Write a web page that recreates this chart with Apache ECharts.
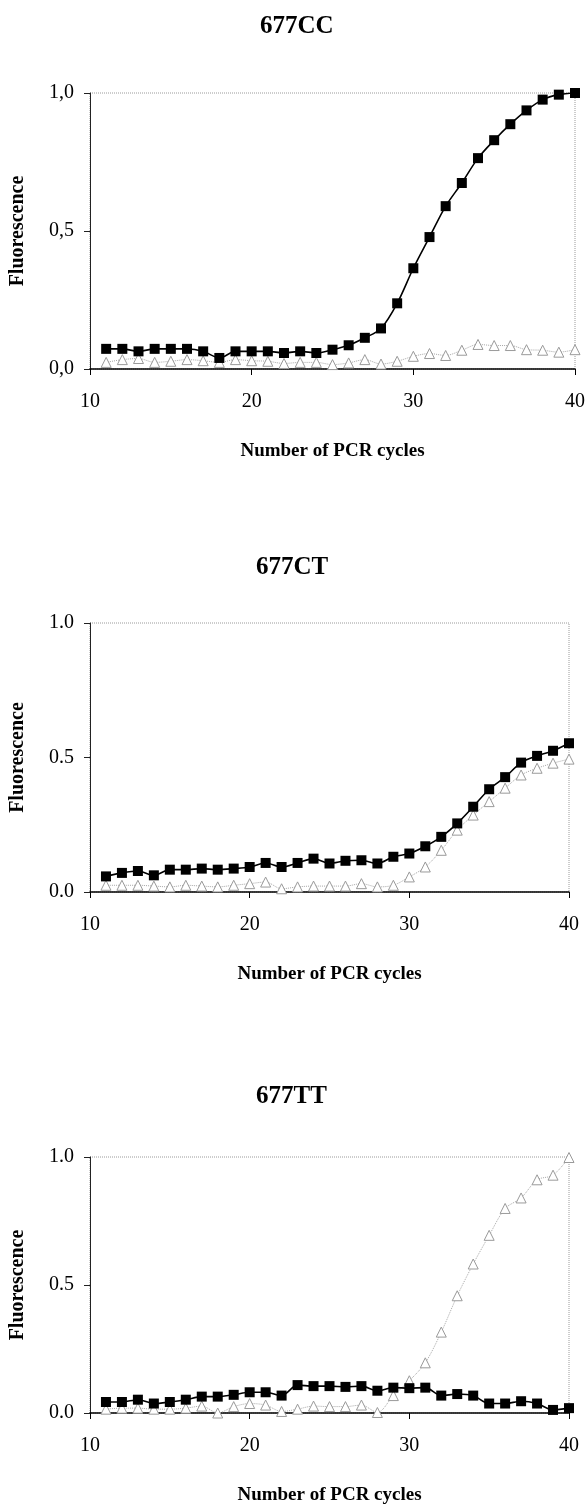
<!DOCTYPE html>
<html>
<head>
<meta charset="utf-8">
<script src="https://cdn.jsdelivr.net/npm/echarts@6/dist/echarts.min.js"></script>
<style>
  html, body { margin: 0; padding: 0; background: #fff; }
  #main { width: 588px; height: 1506px; }
</style>
</head>
<body>
<div id="main"></div>
<script>
  // PCR cycles (x)
  var cycles = [11, 12, 13, 14, 15, 16, 17, 18, 19, 20, 21, 22, 23, 24, 25, 26, 27, 28, 29, 30, 31, 32, 33, 34, 35, 36, 37, 38, 39, 40];

  var chartTitles = ['677CC', '677CT', '677TT'];
  var xTicks = [10, 20, 30, 40];
  var yTicks = [0, 0.5, 1];
  var yLabelsCC = ['0,0', '0,5', '1,0'];
  var yLabelsOther = ['0.0', '0.5', '1.0'];

  // 677CC
  var ccSquare = [0.073, 0.073, 0.064, 0.073, 0.073, 0.073, 0.064, 0.040, 0.064, 0.064, 0.064, 0.058, 0.064, 0.058, 0.070, 0.086, 0.113, 0.147, 0.238, 0.365, 0.478, 0.590, 0.674, 0.764, 0.829, 0.887, 0.937, 0.976, 0.994, 1.0];
  var ccTriangle = [0.024, 0.034, 0.038, 0.024, 0.028, 0.034, 0.030, 0.024, 0.034, 0.030, 0.028, 0.020, 0.024, 0.024, 0.016, 0.022, 0.034, 0.018, 0.028, 0.046, 0.056, 0.049, 0.068, 0.089, 0.085, 0.085, 0.070, 0.068, 0.061, 0.070];

  // 677CT
  var ctSquare = [0.058, 0.071, 0.078, 0.062, 0.083, 0.083, 0.087, 0.083, 0.087, 0.093, 0.108, 0.093, 0.108, 0.124, 0.106, 0.116, 0.118, 0.106, 0.131, 0.143, 0.170, 0.205, 0.255, 0.317, 0.382, 0.427, 0.481, 0.506, 0.525, 0.553];
  var ctTriangle = [0.025, 0.025, 0.025, 0.022, 0.019, 0.025, 0.022, 0.019, 0.025, 0.031, 0.037, 0.012, 0.019, 0.022, 0.022, 0.022, 0.031, 0.019, 0.025, 0.056, 0.093, 0.155, 0.230, 0.286, 0.336, 0.386, 0.435, 0.460, 0.479, 0.494];

  // 677TT
  var ttSquare = [0.043, 0.043, 0.052, 0.037, 0.043, 0.052, 0.064, 0.064, 0.071, 0.081, 0.081, 0.068, 0.109, 0.105, 0.105, 0.102, 0.105, 0.087, 0.099, 0.097, 0.099, 0.068, 0.074, 0.068, 0.037, 0.037, 0.046, 0.037, 0.012, 0.019];
  var ttTriangle = [0.015, 0.019, 0.019, 0.015, 0.015, 0.019, 0.027, 0.0, 0.025, 0.037, 0.031, 0.006, 0.015, 0.027, 0.025, 0.025, 0.031, 0.002, 0.068, 0.126, 0.196, 0.316, 0.458, 0.582, 0.694, 0.799, 0.840, 0.911, 0.929, 0.998];

  var squares = [ccSquare, ctSquare, ttSquare];
  var triangles = [ccTriangle, ctTriangle, ttTriangle];

  var serif = '"Liberation Serif", "DejaVu Serif", serif';

  // 每个小图的位置
  var grids = [
    { left: 86, right: 12, top: 93, height: 276 },
    { left: 86, right: 19, top: 623, height: 269 },
    { left: 86, right: 19, top: 1157, height: 274 }
  ];
  var titleTops = [9, 550, 1079];
  var titleLefts = [255, 251, 251];

  function pairs(ys) {
    return cycles.map(function (c, i) { return [c, ys[i]]; });
  }

  var option = {
    animation: false,
    backgroundColor: '#fff',
    title: [],
    grid: [],
    xAxis: [],
    yAxis: [],
    series: []
  };

  grids.forEach(function (g, k) {
    var labels = k === 0 ? yLabelsCC : yLabelsOther;
    option.title.push({
      text: chartTitles[k],
      left: titleLefts[k],
      top: titleTops[k],
      textStyle: { fontFamily: serif, fontWeight: 'bold', fontSize: 25, color: '#000' }
    });
    option.grid.push({
      left: g.left, right: g.right, top: g.top, height: g.height,
      show: true,
      borderColor: '#9a9a9a',
      borderWidth: 1,
      borderType: 'dotted',
      backgroundColor: 'transparent'
    });
    option.xAxis.push({
      type: 'value',
      gridIndex: k,
      min: xTicks[0],
      max: xTicks[xTicks.length - 1],
      interval: 10,
      name: 'Number of PCR cycles',
      nameLocation: 'middle',
      nameGap: 73,
      nameTextStyle: { fontFamily: serif, fontWeight: 'bold', fontSize: 19, color: '#000' },
      axisLine: { lineStyle: { color: '#000', width: 1.5 } },
      axisTick: { show: true, inside: false, length: 6, lineStyle: { color: '#000' } },
      axisLabel: { fontFamily: serif, fontSize: 20, color: '#000', margin: 23 },
      splitLine: { show: false }
    });
    option.yAxis.push({
      type: 'value',
      gridIndex: k,
      min: yTicks[0],
      max: yTicks[yTicks.length - 1],
      interval: 0.5,
      name: 'Fluorescence',
      nameLocation: 'middle',
      nameGap: 62,
      nameTextStyle: { fontFamily: serif, fontWeight: 'bold', fontSize: 20, color: '#000' },
      axisLine: { show: true, lineStyle: { color: '#222', width: 1 } },
      axisTick: { show: true, inside: false, length: 6, lineStyle: { color: '#222' } },
      axisLabel: {
        fontFamily: serif, fontSize: 20, color: '#000', margin: 16,
        formatter: function (v) { return labels[yTicks.indexOf(v)]; }
      },
      splitLine: { show: false }
    });
    option.series.push({
      type: 'line',
      xAxisIndex: k,
      yAxisIndex: k,
      data: pairs(triangles[k]),
      smooth: 0.3,
      symbol: 'triangle',
      symbolSize: 10,
      showAllSymbol: true,
      lineStyle: { color: '#a8a8a8', width: 1, type: 'dotted' },
      itemStyle: { color: '#fff', borderColor: '#9a9a9a', borderWidth: 1 },
      z: 2
    });
    option.series.push({
      type: 'line',
      xAxisIndex: k,
      yAxisIndex: k,
      data: pairs(squares[k]),
      smooth: 0.3,
      symbol: 'rect',
      symbolSize: 10,
      showAllSymbol: true,
      lineStyle: { color: '#000', width: 1.6 },
      itemStyle: { color: '#000' },
      z: 3
    });
  });

  var chart = echarts.init(document.getElementById('main'));
  chart.setOption(option);
</script>
</body>
</html>
